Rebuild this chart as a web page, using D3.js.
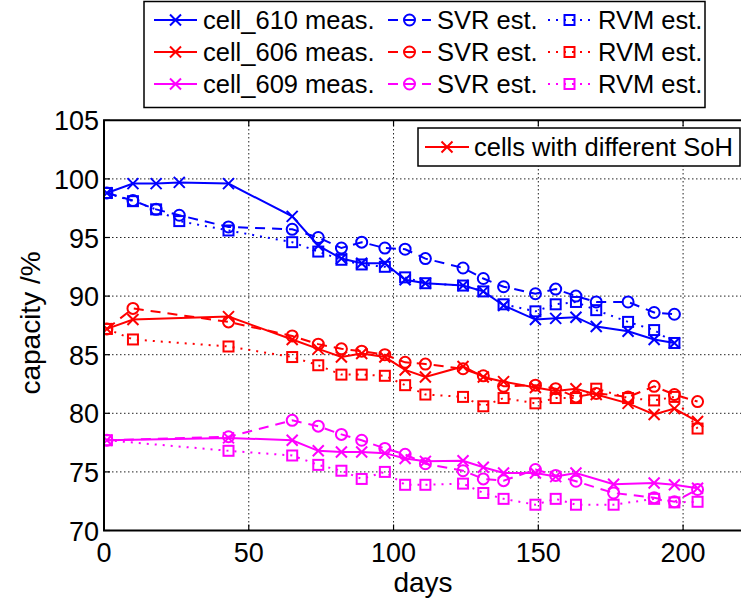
<!DOCTYPE html>
<html><head><meta charset="utf-8">
<script src="https://cdn.jsdelivr.net/npm/d3@7"></script>
<style>body{margin:0;background:#fff}svg{display:block}text{font-family:"Liberation Sans",Arial,Helvetica,sans-serif;fill:#000}</style>
</head><body><svg id="c" width="741" height="601"></svg>
<script>
// ---- data ----
const days610 = [1,10,18,26,43,65,74,82,89,97,104,111,124,131,138,149,156,163,170,181,190,197];
const meas610 = [98.8,99.6,99.6,99.7,99.6,96.8,94.3,93.2,92.8,92.8,91.4,91.1,90.9,90.4,89.2,88.0,88.1,88.2,87.4,87.0,86.3,86.0];
const svr610  = [98.8,98.15,97.4,96.9,95.9,95.7,95.0,94.1,94.6,94.1,94.0,93.2,92.4,91.5,90.8,90.2,90.6,90.0,89.5,89.5,88.6,88.45];
const rvm610  = [98.8,98.1,97.4,96.4,95.6,94.6,93.8,93.1,92.7,92.5,91.6,91.1,90.9,90.4,89.3,88.7,89.3,89.5,88.8,87.8,87.1,86.0];

const days606 = [1,10,43,65,74,82,89,97,104,111,124,131,138,149,156,163,170,181,190,197,205];
const meas606 = [87.2,88.0,88.25,86.3,85.5,84.8,85.1,84.8,83.7,83.1,84.0,83.1,82.7,82.2,81.9,82.1,81.6,80.85,79.9,80.4,79.3];
const svr606  = [87.2,88.95,87.8,86.6,85.9,85.5,85.3,85.0,84.35,84.2,83.8,83.2,82.3,82.4,82.1,81.4,81.7,81.4,82.3,81.6,81.0];
const rvm606  = [87.2,86.3,85.7,84.8,84.1,83.3,83.3,83.2,82.4,81.6,81.4,80.6,81.3,80.85,81.3,81.3,82.1,81.3,81.1,81.4,78.7];

const days609 = [1,43,65,74,82,89,97,104,111,124,131,138,149,156,163,176,190,197,205];
const meas609 = [77.7,77.9,77.7,76.8,76.7,76.7,76.6,76.15,75.9,75.95,75.4,74.9,74.9,74.6,74.9,73.95,74.05,73.9,73.6];
const svr609  = [77.7,78.0,79.4,78.9,78.2,77.7,77.0,76.5,75.7,75.1,74.4,74.25,75.2,74.7,74.2,73.2,72.8,72.45,73.5];
const rvm609  = [77.7,76.8,76.4,75.6,75.1,74.4,75.0,73.9,73.9,74.0,73.2,72.7,72.2,72.7,72.2,72.2,72.7,72.4,72.45];

const xTicks = [0,50,100,150,200];
const yTicks = [70,75,80,85,90,95,100,105];
const cellNames = ["cell_610 meas.","cell_606 meas.","cell_609 meas."];
const estNames = ["SVR est.","RVM est."];
const sohLabel = "cells with different SoH";
const xLabel = "days", yLabel = "capacity /%";

// ---- build ----
const svg = d3.select("#c");
svg.append("rect").attr("width",741).attr("height",601).attr("fill","#fff");
const x = d3.scaleLinear().domain([0,220]).range([104,741]);
const y = d3.scaleLinear().domain([70,105]).range([530.5,120.3]);
const X0 = x(0), X1 = x(220), Y0 = y(70), Y1 = y(105);

const colors = ["#0000ff","#ff0000","#ff00ff"];
const cells = [
  {days:days610, m:meas610, s:svr610, r:rvm610},
  {days:days606, m:meas606, s:svr606, r:rvm606},
  {days:days609, m:meas609, s:svr609, r:rvm609}
];
const dashes = {m:null, s:"10,7", r:"2,6"};

// grid
const grid = svg.append("g").attr("stroke","#222").attr("stroke-width",1).attr("stroke-dasharray","1.5,2.5");
xTicks.filter(t=>t>0).forEach(t=>grid.append("line").attr("x1",x(t)).attr("x2",x(t)).attr("y1",Y0).attr("y2",Y1));
yTicks.filter(t=>t>70&&t<105).forEach(t=>grid.append("line").attr("x1",X0).attr("x2",X1).attr("y1",y(t)).attr("y2",y(t)));

svg.append("defs").append("clipPath").attr("id","clip").append("rect")
  .attr("x",X0).attr("y",Y1-8).attr("width",X1-X0).attr("height",Y0-Y1+16);

function marker(g, type, color){
  if(type==="m") g.append("path").attr("d","M-5.5,-5.5L5.5,5.5M-5.5,5.5L5.5,-5.5").attr("stroke",color).attr("stroke-width",2).attr("fill","none");
  else if(type==="s") g.append("circle").attr("r",5.5).attr("stroke",color).attr("stroke-width",2).attr("fill","none");
  else g.append("rect").attr("x",-5).attr("y",-5).attr("width",10).attr("height",10).attr("stroke",color).attr("stroke-width",2).attr("fill","none");
}

const plot = svg.append("g").attr("clip-path","url(#clip)");
const line = d3.line().x(d=>x(d[0])).y(d=>y(d[1]));
cells.forEach((c,i)=>{
  ["m","s","r"].forEach(k=>{
    const pts = c.days.map((d,j)=>[d,c[k][j]]);
    plot.append("path").datum(pts).attr("d",line).attr("fill","none")
      .attr("stroke",colors[i]).attr("stroke-width",2)
      .attr("stroke-dasharray",dashes[k]);
    pts.forEach(p=>{
      const g = plot.append("g").attr("transform",`translate(${x(p[0])},${y(p[1])})`);
      marker(g,k,colors[i]);
    });
  });
});

// axes box
const ax = svg.append("g").attr("stroke","#000").attr("stroke-width",2).attr("fill","none");
ax.append("line").attr("x1",X0).attr("x2",X0).attr("y1",Y1).attr("y2",Y0);
ax.append("line").attr("x1",X0-1).attr("x2",X1).attr("y1",Y0).attr("y2",Y0);
ax.append("line").attr("x1",X0-1).attr("x2",X1).attr("y1",Y1).attr("y2",Y1);
const tk = svg.append("g").attr("stroke","#000").attr("stroke-width",1.2);
xTicks.forEach(t=>{
  tk.append("line").attr("x1",x(t)).attr("x2",x(t)).attr("y1",Y0).attr("y2",Y0-6);
  tk.append("line").attr("x1",x(t)).attr("x2",x(t)).attr("y1",Y1).attr("y2",Y1+6);
});
yTicks.forEach(t=>tk.append("line").attr("x1",X0).attr("x2",X0+6).attr("y1",y(t)).attr("y2",y(t)));

// tick labels
svg.append("g").selectAll("text").data(xTicks).join("text")
  .attr("x",d=>x(d)).attr("y",Y0+31).attr("text-anchor","middle").attr("font-size",27).text(d=>d);
svg.append("g").selectAll("text").data(yTicks).join("text")
  .attr("x",X0-5).attr("y",d=>y(d)+10).attr("text-anchor","end").attr("font-size",27).text(d=>d);
svg.append("text").attr("x",423).attr("y",592).attr("text-anchor","middle").attr("font-size",28).text(xLabel);
svg.append("text").attr("transform","translate(40,323) rotate(-90)").attr("text-anchor","middle").attr("font-size",28).text(yLabel);

// top legend
svg.append("rect").attr("x",144).attr("y",1.5).attr("width",561).attr("height",106)
  .attr("fill","#fff").attr("stroke","#000").attr("stroke-width",1.5);
const rowY = [20,52,84];
const colX = [[154,197,203],[388,431,437],[548,591,598]];
cells.forEach((c,i)=>{
  ["m","s","r"].forEach((k,j)=>{
    const [a,b,tx] = colX[j];
    svg.append("line").attr("x1",a).attr("x2",b).attr("y1",rowY[i]).attr("y2",rowY[i])
      .attr("stroke",colors[i]).attr("stroke-width",2).attr("stroke-dasharray",dashes[k]);
    marker(svg.append("g").attr("transform",`translate(${(a+b)/2},${rowY[i]})`),k,colors[i]);
    svg.append("text").attr("x",tx).attr("y",rowY[i]+9).attr("font-size",25.5)
      .text(j===0?cellNames[i]:estNames[j-1]);
  });
});

// SoH legend
svg.append("rect").attr("x",418).attr("y",128).attr("width",322).attr("height",38)
  .attr("fill","#fff").attr("stroke","#000").attr("stroke-width",1.5);
svg.append("line").attr("x1",425).attr("x2",469).attr("y1",147).attr("y2",147).attr("stroke",colors[1]).attr("stroke-width",2);
marker(svg.append("g").attr("transform","translate(447,147)"),"m",colors[1]);
svg.append("text").attr("x",474).attr("y",156).attr("font-size",25.5).text(sohLabel);
</script></body></html>
